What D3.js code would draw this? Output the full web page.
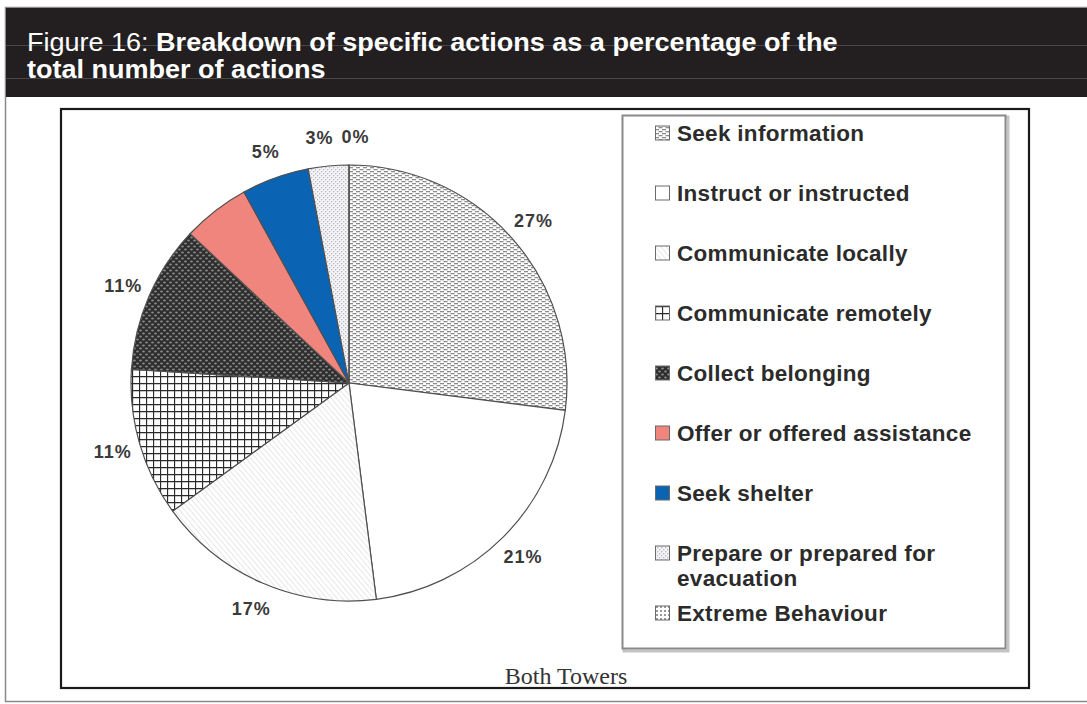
<!DOCTYPE html>
<html lang="en">
<head>
<meta charset="utf-8">
<title>Figure 16</title>
<script src="https://cdnjs.cloudflare.com/ajax/libs/d3/7.8.5/d3.min.js"></script>
<style>
  body { margin: 0; background: #fff; }
  svg { display: block; }
</style>
</head>
<body>
<svg width="1087" height="704"></svg>
<script>
// data
var categories = ["Seek information", "Instruct or instructed", "Communicate locally",
    "Communicate remotely", "Collect belonging", "Offer or offered assistance",
    "Seek shelter", "Prepare or prepared for evacuation", "Extreme Behaviour"];
var percents = [27, 21, 17, 11, 11, 5, 5, 3, 0];
// Excel dropped one of the two 5% labels
var sliceLabels = ["27%", "21%", "17%", "11%", "11%", "", "5%", "3%", "0%"];
var fills = ["url(#pInfo)", "#ffffff", "url(#pLocal)", "url(#pGrid)", "url(#pCollect)",
    "#f0857e", "#0b63b3", "url(#pPrepare)", "url(#pExtreme)"];

var svg = d3.select("svg");
var defs = svg.append("defs");

// fill patterns
var p = defs.append("pattern").attr("id", "pInfo").attr("patternUnits", "userSpaceOnUse")
    .attr("width", 7).attr("height", 4);
p.append("rect").attr("width", 7).attr("height", 4).attr("fill", "#fff");
p.append("rect").attr("x", 0).attr("y", 0).attr("width", 4).attr("height", 1.3).attr("fill", "#8c8c8c");
p.append("rect").attr("x", 3.5).attr("y", 2).attr("width", 4).attr("height", 1.3).attr("fill", "#8c8c8c");
p.append("rect").attr("x", -3.5).attr("y", 2).attr("width", 4).attr("height", 1.3).attr("fill", "#8c8c8c");

p = defs.append("pattern").attr("id", "pLocal").attr("patternUnits", "userSpaceOnUse")
    .attr("width", 4).attr("height", 4).attr("patternTransform", "rotate(-40)");
p.append("rect").attr("width", 4).attr("height", 4).attr("fill", "#fff");
p.append("line").attr("x1", 0).attr("y1", 0).attr("x2", 0).attr("y2", 4)
    .attr("stroke", "#cfcfcf").attr("stroke-width", 1);

p = defs.append("pattern").attr("id", "pGrid").attr("patternUnits", "userSpaceOnUse")
    .attr("width", 7).attr("height", 7);
p.append("rect").attr("width", 7).attr("height", 7).attr("fill", "#fff");
p.append("path").attr("d", "M0,0.5H7M0.5,0V7").attr("stroke", "#2a2a2a").attr("stroke-width", 1.3);

p = defs.append("pattern").attr("id", "pCollect").attr("patternUnits", "userSpaceOnUse")
    .attr("width", 6).attr("height", 6);
p.append("rect").attr("width", 6).attr("height", 6).attr("fill", "#2e2e2e");
p.append("ellipse").attr("cx", 1.5).attr("cy", 1.5).attr("rx", 1.4).attr("ry", 0.9).attr("fill", "#8a8a8a");
p.append("ellipse").attr("cx", 4.5).attr("cy", 4.5).attr("rx", 1.4).attr("ry", 0.9).attr("fill", "#8a8a8a");

p = defs.append("pattern").attr("id", "pPrepare").attr("patternUnits", "userSpaceOnUse")
    .attr("width", 4).attr("height", 4);
p.append("rect").attr("width", 4).attr("height", 4).attr("fill", "#f4f4f6");
p.append("rect").attr("x", 0).attr("y", 0).attr("width", 1.3).attr("height", 1.3).attr("fill", "#b8b8c0");
p.append("rect").attr("x", 2).attr("y", 2).attr("width", 1.3).attr("height", 1.3).attr("fill", "#b8b8c0");

p = defs.append("pattern").attr("id", "pExtreme").attr("patternUnits", "userSpaceOnUse")
    .attr("width", 4).attr("height", 4);
p.append("rect").attr("width", 4).attr("height", 4).attr("fill", "#fff");
p.append("rect").attr("x", 1).attr("y", 1).attr("width", 2).attr("height", 2).attr("fill", "#999");

// outer frame and header band
svg.append("rect").attr("x", 5.5).attr("y", 7.5).attr("width", 1090).attr("height", 694)
    .attr("fill", "#fff").attr("stroke", "#8a8a8a").attr("stroke-width", 1.5);
svg.append("rect").attr("x", 6).attr("y", 8).attr("width", 1090).attr("height", 89).attr("fill", "#231f20");
svg.append("line").attr("x1", 6).attr("x2", 1087).attr("y1", 45.5).attr("y2", 45.5).attr("stroke", "#4a4748");
svg.append("line").attr("x1", 6).attr("x2", 1087).attr("y1", 78.5).attr("y2", 78.5).attr("stroke", "#4a4748");

var title = svg.append("g").attr("fill", "#fff")
    .style("font-family", "'Liberation Sans', Arial, sans-serif").style("font-size", "25px");
var t1 = title.append("text").attr("x", 0).attr("y", 51);
t1.append("tspan").text("Figure 16: ");
t1.append("tspan").attr("font-weight", "bold").text("Breakdown of specific actions as a percentage of the");
var t2 = title.append("text").attr("x", 0).attr("y", 78).attr("font-weight", "bold").text("total number of actions");
var sx = 811 / t1.node().getComputedTextLength();
title.attr("transform", "translate(27,0) scale(" + sx + ",1)");

// chart box
svg.append("rect").attr("x", 61).attr("y", 109).attr("width", 968).attr("height", 579)
    .attr("fill", "#fff").attr("stroke", "#1a1a1a").attr("stroke-width", 2.2);

// pie
var cx = 349, cy = 383, radius = 218;
var pie = d3.pie().sort(null).value(function(d) { return d; });
var arcs = pie(percents);
var arc = d3.arc().innerRadius(0).outerRadius(radius);
var labelArc = d3.arc().innerRadius(246).outerRadius(246);

var g = svg.append("g").attr("transform", "translate(" + cx + "," + cy + ")");
g.selectAll(".slice")
    .data(arcs)
    .enter().append("path")
    .attr("class", "slice")
    .attr("d", arc)
    .attr("fill", function(d, i) { return fills[i]; })
    .attr("stroke", "#505050")
    .attr("stroke-width", 1.2);

var labs = g.selectAll(".lab")
    .data(arcs)
    .enter().append("text")
    .attr("class", "lab")
    .attr("x", function(d) { return labelArc.centroid(d)[0]; })
    .attr("y", function(d) { return labelArc.centroid(d)[1]; })
    .attr("dy", "0.35em")
    .attr("text-anchor", "middle")
    .style("font-family", "'Liberation Sans', Arial, sans-serif")
    .style("font-size", "18px")
    .style("font-weight", "bold")
    .style("letter-spacing", "1px")
    .attr("fill", "#3a3a3a")
    .text(function(d, i) { return sliceLabels[i]; });

// push apart labels that collide (the small slices at the top)
var nodes = labs.nodes().filter(function(n) { return n.textContent !== ""; });
for (var i = 0; i < nodes.length; i++) {
    for (var j = i + 1; j < nodes.length; j++) {
        var a = nodes[i].getBBox(), b = nodes[j].getBBox();
        var overlapX = Math.min(a.x + a.width, b.x + b.width) - Math.max(a.x, b.x);
        var overlapY = Math.min(a.y + a.height, b.y + b.height) - Math.max(a.y, b.y);
        if (overlapX > -6 && overlapY > 0) {
            var shift = (overlapX + 8) / 2;
            var left = a.x < b.x ? nodes[i] : nodes[j], right = left === nodes[i] ? nodes[j] : nodes[i];
            left.setAttribute("x", +left.getAttribute("x") - shift);
            right.setAttribute("x", +right.getAttribute("x") + shift);
        }
    }
}

// legend
var legend = svg.append("g");
legend.append("rect").attr("x", 624).attr("y", 117).attr("width", 384).attr("height", 534)
    .attr("fill", "none").attr("stroke", "#c4c4c4").attr("stroke-width", 3);
legend.append("rect").attr("x", 622.5).attr("y", 115.5).attr("width", 383).attr("height", 533)
    .attr("fill", "#fff").attr("stroke", "#8a8a8a").attr("stroke-width", 2);

var rowY = d3.scaleLinear().domain([0, 1]).range([133, 193]);
var item = legend.selectAll(".item")
    .data(categories)
    .enter().append("g")
    .attr("class", "item")
    .attr("transform", function(d, i) { return "translate(655," + rowY(i) + ")"; });
item.append("rect")
    .attr("x", 0.5).attr("y", -7).attr("width", 14).attr("height", 14)
    .attr("fill", function(d, i) { return fills[i]; })
    .attr("stroke", "#6a6a6a").attr("stroke-width", 1);
item.append("text")
    .attr("x", 22)
    .attr("y", 8)
    .style("font-family", "'Liberation Sans', Arial, sans-serif")
    .style("font-size", "22.5px")
    .style("font-weight", "bold")
    .style("letter-spacing", "0.3px")
    .attr("fill", "#2b2b2b")
    .each(function(d) {
        var el = d3.select(this);
        if (d === "Prepare or prepared for evacuation") {
            el.append("tspan").attr("x", 22).text("Prepare or prepared for");
            el.append("tspan").attr("x", 22).attr("dy", 25).text("evacuation");
        } else {
            el.text(d);
        }
    });

// caption under the pie
svg.append("text")
    .attr("x", 566).attr("y", 684)
    .attr("text-anchor", "middle")
    .style("font-family", "'Liberation Serif', 'Times New Roman', serif")
    .style("font-size", "24px")
    .attr("fill", "#333")
    .text("Both Towers");
</script>
</body>
</html>
